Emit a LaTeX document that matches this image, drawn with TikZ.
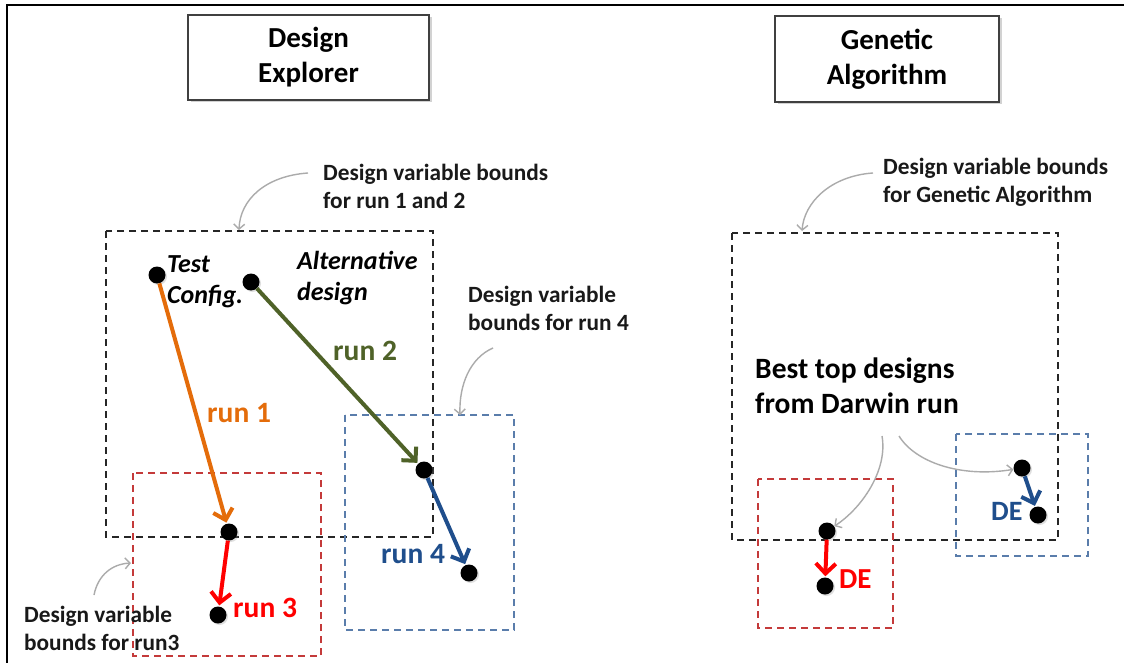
\documentclass[tikz,border=0pt]{standalone}
\usepackage{fontspec}
\setmainfont{Carlito}
\usetikzlibrary{arrows.meta,shadows}
\definecolor{orng}{HTML}{E46C0A}
\definecolor{grn}{HTML}{4F6228}
\definecolor{dblue}{HTML}{1F4E8C}
\definecolor{bboxc}{HTML}{5A7DAB}
\definecolor{rboxc}{HTML}{C43A3A}
\definecolor{annot}{HTML}{ABABAB}
\tikzset{
  titlebox/.style={draw=black!75, line width=1.2pt, fill=white, inner sep=0pt,
    align=center, font=\bfseries\fontsize{29}{35}\selectfont,
    drop shadow={shadow xshift=2.5pt, shadow yshift=-2.5pt, opacity=0.35}},
  annottext/.style={anchor=base west, inner sep=0pt, align=left,
    font=\bfseries\fontsize{23.3}{28}\selectfont, text=black!90},
  dashbox/.style={line width=1.8pt, dash pattern=on 7pt off 5pt},
  dot/.style={circle, fill=black, minimum size=17pt, inner sep=0pt,
    drop shadow={shadow xshift=1.5pt, shadow yshift=-1.5pt, opacity=0.25}},
  runarrow/.style={line width=4pt, -{Straight Barb[length=10pt,width=20pt]}, shorten >=1pt},
  pointer/.style={draw=annot, line width=1.4pt, -{Straight Barb[length=5pt,width=11pt]}},
  runlabel/.style={anchor=base west, inner sep=0pt, font=\bfseries\fontsize{29.5}{32}\selectfont},
  itlabel/.style={anchor=base west, inner sep=0pt, align=left, font=\bfseries\itshape\fontsize{26}{31}\selectfont},
}
\begin{document}
\begin{tikzpicture}[x=1pt,y=-1pt]
\useasboundingbox (0,0) rectangle (1124,663);
\fill[white] (0,0) rectangle (1124,663);
% outer frame (left and top edges)
\draw[line width=2.2pt] (7,663) -- (7,5) -- (1124,5);

% titles
\node[titlebox, minimum width=241pt, minimum height=85pt] (de) at (308.5,57.5) {Design\\Explorer};
\node[titlebox, minimum width=224pt, minimum height=86pt] (ga) at (887,59) {Genetic\\Algorithm};

% dashed bound boxes
\draw[dashbox, draw=black!85] (106,231) rectangle (433,537);
\draw[dashbox, draw=rboxc] (133,473) rectangle (321,656);
\draw[dashbox, draw=bboxc] (345,415) rectangle (514,630);
\draw[dashbox, draw=black!85] (732,233) rectangle (1058,540);
\draw[dashbox, draw=rboxc] (758,479) rectangle (893,628);
\draw[dashbox, draw=bboxc] (956,434) rectangle (1088,556);

% annotations (anchor = baseline of last line)
\node[annottext] (a12) at (323,208) {Design variable bounds\\for run 1 and 2};
\node[annottext] (a4) at (468,330) {Design variable\\bounds for run 4};
\node[annottext] (a3) at (24,650) {Design variable\\bounds for run3};
\node[annottext] (aga) at (883,203) {Design variable bounds\\for Genetic Algorithm};
\node[anchor=base west, inner sep=0pt, align=left, font=\bfseries\fontsize{29.5}{35}\selectfont] (best) at (755,413) {Best top designs\\from Darwin run};

% pointer coordinates
\coordinate (p12s) at (308,173); \coordinate (p12e) at (239,230);
\coordinate (p4s) at (493,348);  \coordinate (p4e) at (460,415);
\coordinate (p3s) at (94,595);   \coordinate (p3e) at (131,563);
\coordinate (pgas) at (873,173); \coordinate (pgae) at (802,231);
\coordinate (pb1s) at (882,436);
\coordinate (pb2s) at (899,436);

\draw[pointer] (p12s) .. controls (265,176) and (240,200) .. (p12e);
\draw[pointer] (p4s) .. controls (470,358) and (459,385) .. (p4e);
\draw[pointer] (p3s) .. controls (98,575) and (112,564) .. (p3e);
\draw[pointer] (pgas) .. controls (830,176) and (804,203) .. (pgae);

% design points
\node[dot] (tc) at (157,275) {};
\node[dot] (alt) at (251,282) {};
\node[dot] (r1) at (229,532) {};
\node[dot] (r2) at (424,470) {};
\node[dot] (r3) at (218,615) {};
\node[dot] (r4) at (469,573) {};
\node[dot] (g1) at (827,531) {};
\node[dot] (g2) at (825,586) {};
\node[dot] (b1) at (1022,468) {};
\node[dot] (b2) at (1038,515) {};

\draw[pointer] (pb1s) .. controls (888,470) and (862,508) .. (g1);
\draw[pointer] (pb2s) .. controls (915,462) and (960,478) .. (b1);

% labels
\node[itlabel] (ltc) at (167,303) {Test\\Config.};
\node[itlabel] (lalt) at (297,300) {Alternative\\design};

% run arrows
\draw[runarrow, orng] (tc) -- (r1);
\draw[runarrow, grn] (alt) -- (r2);
\draw[runarrow, dblue] (r2) -- (r4);
\draw[runarrow, red] (r1) -- (r3);
\draw[runarrow, red] (g1) -- (g2);
\draw[runarrow, dblue] (b1) -- (b2);

\node[runlabel, text=orng] (l1) at (207,422) {run 1};
\node[runlabel, text=grn] (l2) at (333,360) {run 2};
\node[runlabel, text=red] (l3) at (233,617) {run 3};
\node[runlabel, text=dblue] (l4) at (381,563) {run 4};
\node[runlabel, text=red, font=\bfseries\fontsize{29}{32}\selectfont] (lde1) at (839,588) {DE};
\node[runlabel, text=dblue, font=\bfseries\fontsize{28}{32}\selectfont] (lde2) at (991,520) {DE};
\end{tikzpicture}
\end{document}
